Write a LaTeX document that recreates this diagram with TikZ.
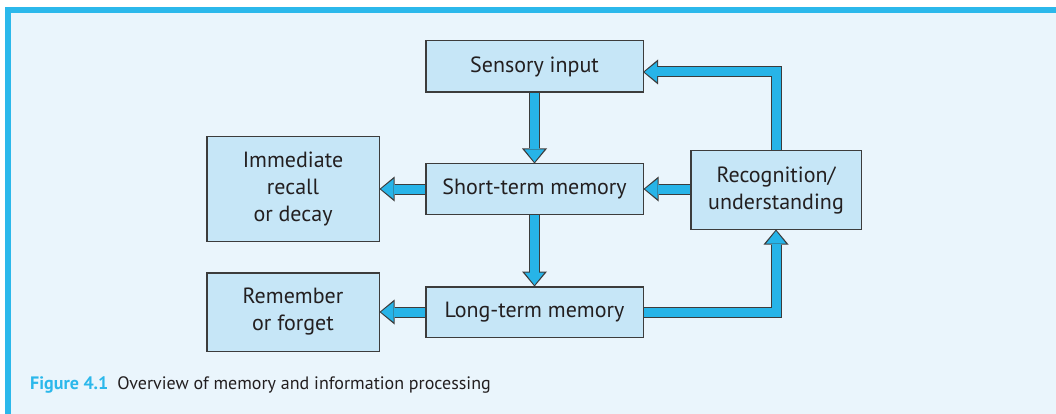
\documentclass[tikz,border=0pt]{standalone}
\usepackage{fontspec}
\setmainfont{PT Sans}
\usetikzlibrary{arrows.meta,calc}
\definecolor{panel}{HTML}{EAF5FC}
\definecolor{bar}{HTML}{2BB8EB}
\definecolor{boxfill}{HTML}{C6E6F7}
\definecolor{edge}{HTML}{3C3C3C}
\definecolor{flow}{HTML}{27B4E8}
\definecolor{ink}{HTML}{231F20}
\tikzset{
  stage/.style={draw=edge, line width=1pt, fill=boxfill, text=ink,
    align=center, inner sep=0pt, font=\fontsize{22}{27}\selectfont},
  fat/.style={draw=edge, line width=11pt, line join=miter,
    -{Triangle[length=15pt, width=25pt, line width=0pt]},
    postaction={draw=flow, line width=9pt, shorten >=1.6pt,
      -{Triangle[length=12.4pt, width=19.8pt, line width=0pt]}}}
}
\begin{document}
\begin{tikzpicture}[x=1pt, y=-1pt]
  \useasboundingbox (0,0) rectangle (1056,414);
  % panel with accent bars on the top and left
  \fill[panel] (5,7) rectangle (1056,414);
  \fill[bar] (5,7) rectangle (1056,13);
  \fill[bar] (5,7) rectangle (11,414);

  \coordinate (sensin) at (643,72);
  \node[stage, minimum width=217pt, minimum height=51pt] (sens) at (534.5,66.5) {Sensory input};
  \node[stage, minimum width=217pt, minimum height=50pt] (stm) at (534.5,189) {Short-term memory};
  \node[stage, minimum width=217pt, minimum height=50pt] (ltm) at (534.5,312) {Long-term memory};
  \node[stage, minimum width=170pt, minimum height=78pt] (rec) at (776,190) {Recognition/\\understanding};
  \node[stage, minimum width=172pt, minimum height=104pt] (imm) at (293,189) {Immediate\\recall\\or decay};
  \node[stage, minimum width=172pt, minimum height=78pt] (rem) at (293,312) {Remember\\or forget};

  % thick flow arrows
  \draw[fat] (sens.south) -- (stm.north);
  \draw[fat] (stm.south) -- (ltm.north);
  \draw[fat] (stm.west) -- (imm.east);
  \draw[fat] (ltm.west) -- (rem.east);
  \draw[fat] (rec.west |- stm.east) -- (stm.east);
  \draw[fat] (rec.north) |- (sensin);
  \draw[fat] (ltm.east) -| (rec.south);

  % box outlines redrawn over the arrow tails
  \foreach \n in {sens,stm,ltm,rec,imm,rem}
    \draw[edge, line width=1pt] (\n.north west) rectangle (\n.south east);

  \node[anchor=base west, inner sep=0pt, font=\fontsize{18}{22}\selectfont, text=ink] (cap) at (30,389)
    {\textcolor{bar}{\bfseries Figure 4.1}\hspace{9pt}Overview of memory and information processing};
\end{tikzpicture}
\end{document}
